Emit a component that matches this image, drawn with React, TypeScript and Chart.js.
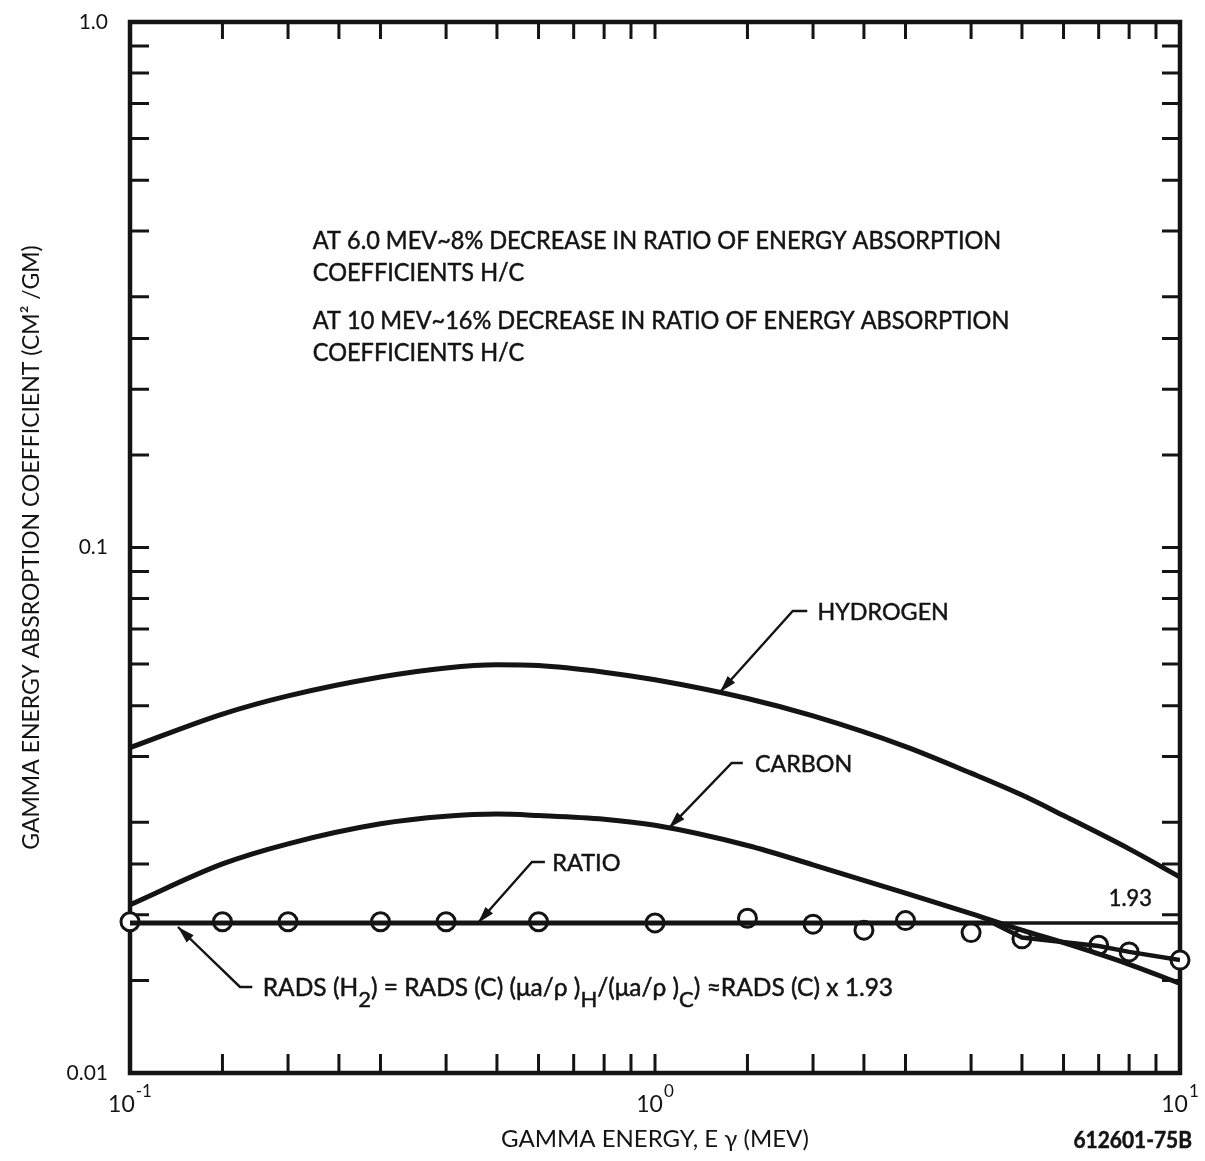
import React, { useEffect, useRef } from 'react';
import { Chart, registerables } from 'chart.js';

Chart.register(...registerables);

// ---------- data ----------
// Gamma energies (MeV) at which the absorption curves were read
const CURVE_ENERGY = [0.1, 0.15, 0.2, 0.3, 0.4, 0.5, 0.6, 0.8, 1, 1.5, 2, 3, 4, 5, 6, 8, 10];
// Energy absorption coefficients (cm^2/g)
const HYDROGEN = [0.0416, 0.0482, 0.0522, 0.0567, 0.059, 0.0598, 0.0596, 0.0579, 0.056, 0.0516, 0.0478, 0.0418, 0.0372, 0.0338, 0.0309, 0.0267, 0.0236];
const CARBON = [0.0209, 0.025, 0.0273, 0.0298, 0.0308, 0.0311, 0.0309, 0.0304, 0.0296, 0.0271, 0.0249, 0.022, 0.0201, 0.0187, 0.0177, 0.0161, 0.0148];

// H/C ratio points (drawn on the same log axis, scaled by 0.01)
const RATIO_ENERGY = [0.1, 0.15, 0.2, 0.3, 0.4, 0.6, 1, 1.5, 2, 2.5, 3, 4, 5, 7, 8, 10];
const RATIO_VALUES = [1.94, 1.94, 1.94, 1.94, 1.94, 1.94, 1.93, 1.97, 1.92, 1.87, 1.95, 1.85, 1.8, 1.75, 1.7, 1.64];
const RATIO_CONST = 1.93;
const RATIO_CONST_ENERGY = [0.1, 4.4, 10];
const RATIO_FIT_ENERGY = [4.4, 5, 7, 8, 10];
const RATIO_FIT_VALUES = [1.93, 1.81, 1.745, 1.7, 1.64];
const RATIO_PLOT_SCALE = 0.01;

// Axis ticks
const X_TICKS = [0.1, 0.15, 0.2, 0.25, 0.3, 0.4, 0.5, 0.6, 0.7, 0.8, 0.9, 1, 1.5, 2, 2.5, 3, 4, 5, 6, 7, 8, 9, 10];
const Y_TICKS = [0.01, 0.015, 0.02, 0.025, 0.03, 0.04, 0.05, 0.06, 0.07, 0.08, 0.09, 0.1, 0.15, 0.2, 0.25, 0.3, 0.4, 0.5, 0.6, 0.7, 0.8, 0.9, 1];
const Y_TICK_LABELS: [number, string][] = [[0.01, '0.01'], [0.1, '0.1'], [1, '1.0']];
const X_TICK_LABELS: [number, string][] = [[0.1, '-1'], [1, '0'], [10, '1']];

// Annotation texts (anchored in data units: energy, coefficient)
const NOTE_LINES = [
  'AT 6.0 MEV~8% DECREASE IN RATIO OF ENERGY ABSORPTION',
  'COEFFICIENTS H/C',
  'AT 10 MEV~16% DECREASE IN RATIO OF ENERGY ABSORPTION',
  'COEFFICIENTS H/C',
];
const NOTE_ENERGY = 0.223;
const NOTE_VALUES = [0.385, 0.334, 0.271, 0.2355];

type Seg = { t: string; sub?: boolean };
const RADS_TEXT: Seg[] = [
  { t: 'RADS (H' }, { t: '2', sub: true }, { t: ') = RADS (C) (μa/ρ )' }, { t: 'H', sub: true },
  { t: '/(μa/ρ )' }, { t: 'C', sub: true }, { t: ') ≈RADS (C) x 1.93' },
];
const CALLOUTS: { label: Seg[]; size: number; sx: number; tip: [number, number]; elbow: [number, number]; end: number; textE: number }[] = [
  { label: [{ t: 'HYDROGEN' }], size: 24, sx: 0.97, tip: [1.33, 0.0531], elbow: [1.83, 0.0757], end: 1.95, textE: 2.04 },
  { label: [{ t: 'CARBON' }], size: 24, sx: 0.97, tip: [1.063, 0.02925], elbow: [1.4, 0.0389], end: 1.47, textE: 1.55 },
  { label: [{ t: 'RATIO' }], size: 24, sx: 0.98, tip: [0.46, 0.0193], elbow: [0.583, 0.0252], end: 0.617, textE: 0.637 },
  { label: RADS_TEXT, size: 24.5, sx: 1.0, tip: [0.1234, 0.01896], elbow: [0.162, 0.01458], end: 0.171, textE: 0.179 },
];
const RATIO_LABEL = { text: '1.93', e: 8.84, v: 0.02153 };
const X_TITLE = 'GAMMA ENERGY, E γ (MEV)';
const Y_TITLE = 'GAMMA ENERGY ABSROPTION COEFFICIENT (CM² /GM)';
const FIGURE_ID = '612601-75B';

// ---------- styling ----------
const INK = '#141414';
const FONT = 'Lato, "Open Sans", "DejaVu Sans", sans-serif';

function drawRich(ctx: CanvasRenderingContext2D, segs: Seg[], x: number, cy: number, size: number, sx: number, align: 'left' | 'right' | 'center' = 'left', weight = '400') {
  ctx.save();
  ctx.fillStyle = INK;
  ctx.strokeStyle = INK;
  ctx.lineWidth = 0.5;
  ctx.textBaseline = 'alphabetic';
  ctx.textAlign = 'left';
  const subSize = size * 0.9;
  const widths = segs.map((s) => {
    ctx.font = `${weight} ${s.sub ? subSize : size}px ${FONT}`;
    return ctx.measureText(s.t).width * sx;
  });
  const total = widths.reduce((a, b) => a + b, 0);
  let cx = align === 'left' ? x : align === 'right' ? x - total : x - total / 2;
  const base = cy + size * 0.36;
  segs.forEach((s, i) => {
    ctx.font = `${weight} ${s.sub ? subSize : size}px ${FONT}`;
    ctx.save();
    ctx.translate(cx, s.sub ? base + size * 0.45 : base);
    ctx.scale(sx, 1);
    ctx.fillText(s.t, 0, 0);
    ctx.strokeText(s.t, 0, 0);
    ctx.restore();
    cx += widths[i];
  });
  ctx.restore();
}

function near(a: number, b: number) {
  return Math.abs(Math.log10(a) - Math.log10(b)) < 1e-6;
}

const decorPlugin = {
  id: 'decor',
  beforeDatasetsDraw(chart: any) {
    const { ctx, chartArea: a, scales } = chart;
    const xs = scales.x;
    const ys = scales.y;
    ctx.save();
    ctx.strokeStyle = INK;
    ctx.lineWidth = 4.5;
    ctx.strokeRect(a.left, a.top, a.right - a.left, a.bottom - a.top);
    ctx.lineWidth = 3;
    const TL = 19;
    ctx.beginPath();
    xs.ticks.forEach((t: any) => {
      if (near(t.value, xs.min) || near(t.value, xs.max)) return;
      const p = xs.getPixelForValue(t.value);
      ctx.moveTo(p, a.bottom); ctx.lineTo(p, a.bottom - TL);
      ctx.moveTo(p, a.top); ctx.lineTo(p, a.top + TL - 2);
    });
    ys.ticks.forEach((t: any) => {
      if (near(t.value, ys.min) || near(t.value, ys.max)) return;
      const p = ys.getPixelForValue(t.value);
      ctx.moveTo(a.left, p); ctx.lineTo(a.left + TL, p);
      ctx.moveTo(a.right, p); ctx.lineTo(a.right - TL + 1, p);
    });
    ctx.stroke();
    ctx.restore();
  },
  afterDatasetsDraw(chart: any) {
    const { ctx, chartArea: a, scales } = chart;
    const xs = scales.x;
    const ys = scales.y;
    const px = (e: number) => xs.getPixelForValue(e);
    const py = (v: number) => ys.getPixelForValue(v);

    // x tick labels with superscript exponents
    ctx.save();
    ctx.fillStyle = INK;
    X_TICK_LABELS.forEach(([v, exp]) => {
      const p = px(v);
      ctx.font = `400 23px ${FONT}`;
      const wb = ctx.measureText('10').width;
      ctx.font = `400 17px ${FONT}`;
      const we = ctx.measureText(exp).width;
      const x0 = p - (wb + 1 + we) / 2;
      ctx.font = `400 23px ${FONT}`;
      ctx.fillText('10', x0, a.bottom + 39);
      ctx.font = `400 17px ${FONT}`;
      ctx.fillText(exp, x0 + wb + 1, a.bottom + 24);
    });
    ctx.restore();

    // notes
    NOTE_LINES.forEach((line, i) => drawRich(ctx, [{ t: line }], px(NOTE_ENERGY), py(NOTE_VALUES[i]), 25, 0.94));

    // callouts with leader lines and arrowheads
    CALLOUTS.forEach((c) => {
      const tx = px(c.tip[0]);
      const ty = py(c.tip[1]);
      const ex = px(c.elbow[0]);
      const ey = py(c.elbow[1]);
      const dx = px(c.end);
      ctx.save();
      ctx.strokeStyle = INK;
      ctx.fillStyle = INK;
      ctx.lineWidth = 2.4;
      ctx.beginPath();
      ctx.moveTo(dx, ey);
      ctx.lineTo(ex, ey);
      ctx.lineTo(tx, ty);
      ctx.stroke();
      const ang = Math.atan2(ty - ey, tx - ex);
      const L = 17;
      const W = 5;
      ctx.beginPath();
      ctx.moveTo(tx, ty);
      ctx.lineTo(tx - L * Math.cos(ang) + W * Math.sin(ang), ty - L * Math.sin(ang) - W * Math.cos(ang));
      ctx.lineTo(tx - L * Math.cos(ang) - W * Math.sin(ang), ty - L * Math.sin(ang) + W * Math.cos(ang));
      ctx.closePath();
      ctx.fill();
      ctx.restore();
      drawRich(ctx, c.label, px(c.textE), ey, c.size, c.sx);
    });

    drawRich(ctx, [{ t: RATIO_LABEL.text }], px(RATIO_LABEL.e), py(RATIO_LABEL.v), 23, 0.95, 'right');
    drawRich(ctx, [{ t: FIGURE_ID }], chart.width - 13, chart.height - 21, 22, 0.95, 'right', '700');
  },
};

export default function App() {
  const ref = useRef<HTMLCanvasElement | null>(null);

  useEffect(() => {
    if (!ref.current) return;
    const pts = (xs: number[], ys: number[], k = 1) => xs.map((x, i) => ({ x, y: ys[i] * k }));

    const chart = new Chart(ref.current, {
      type: 'line',
      data: {
        datasets: [
          {
            label: 'Hydrogen',
            data: pts(CURVE_ENERGY, HYDROGEN),
            borderColor: INK,
            borderWidth: 5,
            pointRadius: 0,
            cubicInterpolationMode: 'monotone',
            fill: false,
          },
          {
            label: 'Carbon',
            data: pts(CURVE_ENERGY, CARBON),
            borderColor: INK,
            borderWidth: 5,
            pointRadius: 0,
            cubicInterpolationMode: 'monotone',
            fill: false,
          },
          {
            label: 'Ratio 1.93',
            data: RATIO_CONST_ENERGY.map((x) => ({ x, y: RATIO_CONST * RATIO_PLOT_SCALE })),
            borderColor: INK,
            borderWidth: 5,
            pointRadius: 0,
            segment: { borderWidth: (c: any) => (c.p0.parsed.x >= 4 ? 3.4 : 5) },
            fill: false,
          },
          {
            label: 'Ratio trend',
            data: pts(RATIO_FIT_ENERGY, RATIO_FIT_VALUES, RATIO_PLOT_SCALE),
            borderColor: INK,
            borderWidth: 4.5,
            pointRadius: 0,
            tension: 0,
            fill: false,
          },
          {
            label: 'Ratio points',
            data: pts(RATIO_ENERGY, RATIO_VALUES, RATIO_PLOT_SCALE),
            showLine: false,
            pointRadius: 9,
            pointBackgroundColor: '#ffffff',
            pointBorderColor: INK,
            pointBorderWidth: 3,
            clip: false,
          },
        ] as any,
      },
      options: {
        animation: false,
        responsive: false,
        devicePixelRatio: 1,
        layout: { padding: { top: 22, right: 25, left: 0, bottom: 0 } },
        plugins: { legend: { display: false }, tooltip: { enabled: false } },
        scales: {
          x: {
            type: 'logarithmic',
            min: 0.1,
            max: 10,
            grid: { display: false, drawTicks: false },
            border: { display: false },
            ticks: { display: false, autoSkip: false },
            afterBuildTicks: (s: any) => {
              s.ticks = X_TICKS.map((value) => ({ value }));
            },
            afterFit: (s: any) => {
              s.height = 88;
              s.paddingLeft = 0;
              s.paddingRight = 0;
            },
            title: {
              display: true,
              text: X_TITLE,
              color: INK,
              font: { family: FONT, size: 24 },
              padding: { top: 0, bottom: 7 },
            },
          },
          y: {
            type: 'logarithmic',
            min: 0.01,
            max: 1,
            grid: { display: false, drawTicks: false },
            border: { display: false },
            ticks: {
              autoSkip: false,
              padding: 22,
              color: INK,
              font: { family: FONT, size: 21 },
              callback: (v: any) => {
                const hit = Y_TICK_LABELS.find(([t]) => near(t, Number(v)));
                return hit ? hit[1] : '';
              },
            },
            afterBuildTicks: (s: any) => {
              s.ticks = Y_TICKS.map((value) => ({ value }));
            },
            afterFit: (s: any) => {
              s.width = 130;
              s.paddingTop = 0;
              s.paddingBottom = 0;
            },
            title: {
              display: true,
              text: Y_TITLE,
              color: INK,
              font: { family: FONT, size: 23 },
              padding: { top: 18, bottom: 0 },
            },
          },
        },
      } as any,
      plugins: [decorPlugin],
    });
    return () => chart.destroy();
  }, []);

  return (
    <div style={{ position: 'absolute', left: 0, top: 0, width: 1205, height: 1161, background: '#ffffff' }}>
      <canvas ref={ref} width={1205} height={1161} style={{ display: 'block', width: 1205, height: 1161 }} />
    </div>
  );
}
